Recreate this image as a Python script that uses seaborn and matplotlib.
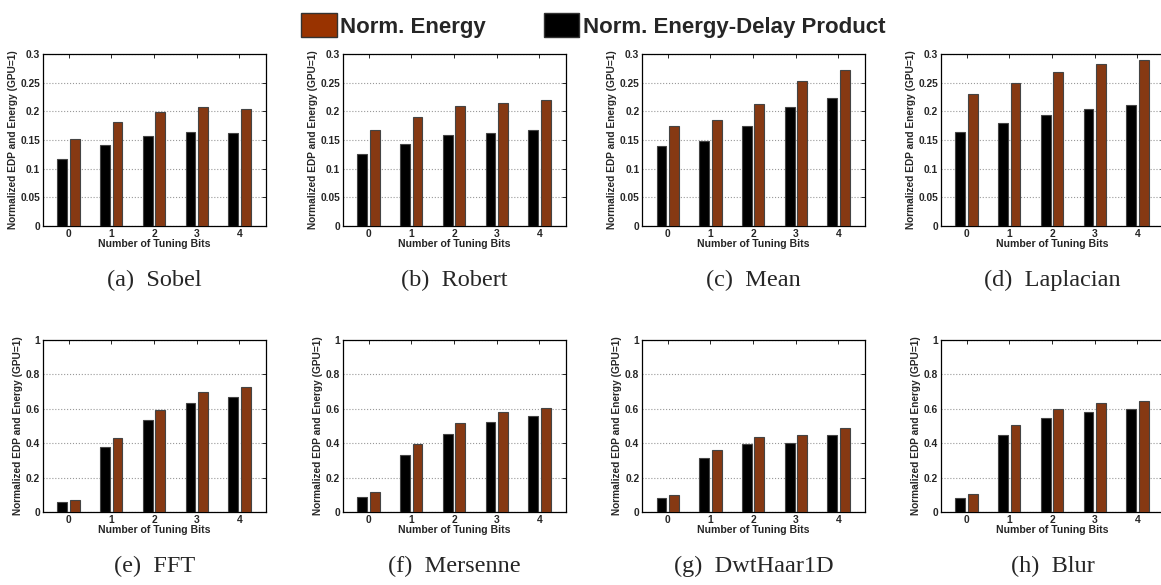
import numpy as np
import pandas as pd
import matplotlib
matplotlib.use('Agg')
import matplotlib.pyplot as plt
from matplotlib.patches import Patch
import seaborn as sb

bits = ['0', '1', '2', '3', '4']
names = ['(a)  Sobel', '(b)  Robert', '(c)  Mean', '(d)  Laplacian',
         '(e)  FFT', '(f)  Mersenne', '(g)  DwtHaar1D', '(h)  Blur']

edp_sobel = [0.117, 0.142, 0.157, 0.164, 0.162]
en_sobel = [0.151, 0.181, 0.198, 0.207, 0.204]
edp_robert = [0.125, 0.143, 0.159, 0.163, 0.167]
en_robert = [0.168, 0.190, 0.210, 0.215, 0.220]
edp_mean = [0.140, 0.148, 0.175, 0.208, 0.223]
en_mean = [0.175, 0.185, 0.213, 0.253, 0.272]
edp_lap = [0.164, 0.180, 0.194, 0.204, 0.211]
en_lap = [0.231, 0.250, 0.269, 0.282, 0.290]
edp_fft = [0.058, 0.375, 0.532, 0.635, 0.668]
en_fft = [0.072, 0.432, 0.594, 0.697, 0.727]
edp_mers = [0.085, 0.333, 0.455, 0.525, 0.557]
en_mers = [0.115, 0.398, 0.517, 0.580, 0.605]
edp_dwt = [0.082, 0.315, 0.393, 0.404, 0.447]
en_dwt = [0.100, 0.358, 0.437, 0.448, 0.490]
edp_blur = [0.083, 0.450, 0.545, 0.583, 0.600]
en_blur = [0.102, 0.503, 0.597, 0.632, 0.647]

edp_all = [edp_sobel, edp_robert, edp_mean, edp_lap, edp_fft, edp_mers, edp_dwt, edp_blur]
en_all = [en_sobel, en_robert, en_mean, en_lap, en_fft, en_mers, en_dwt, en_blur]

top_ticks = [0, 0.05, 0.1, 0.15, 0.2, 0.25, 0.3]
top_labels = ['0', '0.05', '0.1', '0.15', '0.2', '0.25', '0.3']
bot_ticks = [0, 0.2, 0.4, 0.6, 0.8, 1.0]
bot_labels = ['0', '0.2', '0.4', '0.6', '0.8', '1']

orange = '#993300'
series = ['Norm. Energy-Delay Product', 'Norm. Energy']
pal = {series[0]: 'black', series[1]: orange}

sb.set_style('white')
plt.rcParams['font.family'] = ['Liberation Sans', 'DejaVu Sans']

fig = plt.figure(figsize=(11.61, 5.85), dpi=100)

lefts = [0.037, 0.2954, 0.553, 0.8105]
bottoms = [0.6137, 0.1248]
W, H = 0.192, 0.294

for i in range(8):
    row, col = divmod(i, 4)
    ax = fig.add_axes([lefts[col], bottoms[row], W, H])
    df = pd.DataFrame({
        'bits': bits * 2,
        'value': edp_all[i] + en_all[i],
        'series': [series[0]] * 5 + [series[1]] * 5,
    })
    sb.barplot(data=df, x='bits', y='value', hue='series', hue_order=series,
               palette=pal, width=0.58, gap=0.2, edgecolor='#444444',
               linewidth=0.8, legend=False, ax=ax, zorder=3)
    ax.set_xlim(-0.6, 4.62)
    if row == 0:
        ax.set_ylim(0, 0.3)
        ax.set_yticks(top_ticks)
        ax.set_yticklabels(top_labels)
    else:
        ax.set_ylim(0, 1)
        ax.set_yticks(bot_ticks)
        ax.set_yticklabels(bot_labels)
    ax.yaxis.grid(True, linestyle=':', color='#999999', linewidth=0.8, zorder=0)
    ax.set_axisbelow(True)
    ax.tick_params(direction='in', top=True, right=True, length=3, width=0.7,
                   labelsize=7.4, pad=2)
    for lab in ax.get_xticklabels() + ax.get_yticklabels():
        lab.set_fontweight('bold')
    for s in ax.spines.values():
        s.set_color('black')
        s.set_linewidth(0.9)
    ax.set_xlabel('Number of Tuning Bits', fontsize=7.6, fontweight='bold', labelpad=0)
    ax.set_ylabel('Normalized EDP and Energy (GPU=1)', fontsize=7.3,
                  fontweight='bold', labelpad=2)
    cy = 0.521 if row == 0 else 0.031
    fig.text(lefts[col] + W / 2, cy, names[i], ha='center', va='center',
             fontsize=17.5, family='Liberation Serif')

handles = [Patch(facecolor=orange, edgecolor='#333333', label='Norm. Energy'),
           Patch(facecolor='black', edgecolor='#333333', label='Norm. Energy-Delay Product')]
leg = fig.legend(handles=handles, loc='upper center', bbox_to_anchor=(0.511, 1.012),
                 ncol=2, frameon=False, handlelength=1.6, handleheight=1.3,
                 handletextpad=0.15, columnspacing=2.6,
                 prop={'size': 16, 'weight': 'bold'})

fig.savefig('out.png', dpi=100)
